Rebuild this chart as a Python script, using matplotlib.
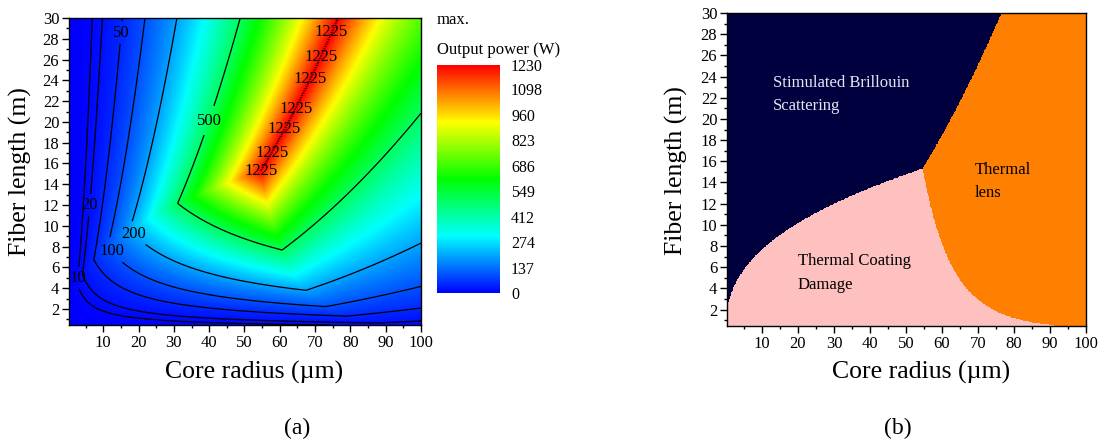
import numpy as np
import matplotlib
matplotlib.use("Agg")
import matplotlib.pyplot as plt
from matplotlib.colors import LinearSegmentedColormap, ListedColormap, Normalize
from matplotlib.cm import ScalarMappable
from matplotlib.ticker import MultipleLocator

plt.rcParams['font.family'] = ['Liberation Serif', 'DejaVu Serif']

# ---- sampling of the design space ----
core_radius = np.linspace(0.3, 100, 600)     # um
fiber_length = np.linspace(0.45, 30, 500)    # m

# ---- power-limit model coefficients ----
SBS_COEF = 6.3          # P_SBS  = k * r^2 / L
LENS_COEF = 240000.0    # P_lens = k * L / r^2
COAT_COEF = 0.43        # P_coat = k * L^a * r^b
COAT_LEN_EXP = 1.45
COAT_RAD_EXP = 1.0

contour_levels = [10, 20, 50, 100, 200, 500]
contour_label_pos = [(3.0, 5.0), (5.5, 12.0), (15.2, 28.6), (12.5, 7.6),
                     (20.0, 9.6), (38.5, 20.3)]
ridge_level = 1225
ridge_label_pos = [(54.4, 14.9), (57.7, 17.0), (61.3, 19.3), (64.5, 21.3),
                   (68.6, 24.1), (71.7, 26.3), (74.7, 28.6)]
cbar_ticks = [0, 137, 274, 412, 549, 686, 823, 960, 1098, 1230]
power_max = 1230
x_ticks = list(range(10, 101, 10))
y_ticks = list(range(2, 31, 2))

region_names = ["Stimulated Brillouin\nScattering", "Thermal Coating\nDamage",
                "Thermal\nlens"]
region_text_pos = [(13.0, 22.3), (19.9, 5.45), (69.2, 14.1)]
region_text_color = ['#e6e6f2', 'black', 'black']
region_colors = ['#00003f', '#ffc0c0', '#ff8000']

# ---- evaluate limits ----
R, L = np.meshgrid(core_radius, fiber_length)
p_sbs = SBS_COEF * R**2 / L
p_coat = COAT_COEF * L**COAT_LEN_EXP * R**COAT_RAD_EXP
p_lens = LENS_COEF * L / R**2
limits = np.stack([p_sbs, p_coat, p_lens])
power = limits.min(axis=0)
region = limits.argmin(axis=0)

# ---- figure ----
W, H = 1105, 445
fig = plt.figure(figsize=(W / 100, H / 100), dpi=100)

def px_box(left, top, right, bottom):
    return [left / W, 1 - bottom / H, (right - left) / W, (bottom - top) / H]

cmap = LinearSegmentedColormap.from_list(
    'rainbow5', [(0.0, '#0000ff'), (0.25, '#00ffff'), (0.5, '#00ff00'),
                 (0.75, '#ffff00'), (1.0, '#ff0000')])
norm = Normalize(vmin=0, vmax=power_max)

def style_axes(ax):
    ax.set_xlim(0.3, 100)
    ax.set_ylim(0.45, 30)
    ax.set_xticks(x_ticks)
    ax.set_yticks(y_ticks)
    ax.xaxis.set_minor_locator(MultipleLocator(5))
    ax.yaxis.set_minor_locator(MultipleLocator(1))
    ax.tick_params(which='major', direction='out', length=5, width=1,
                   labelsize=12, pad=2)
    ax.tick_params(which='minor', direction='out', length=2.5, width=1)
    ax.tick_params(top=False, right=False, which='both')
    for s in ax.spines.values():
        s.set_linewidth(1)

# (a) maximum output power
ax1 = fig.add_axes(px_box(69, 18, 421, 325))
ax1.pcolormesh(R, L, power, cmap=cmap, norm=norm, shading='gouraud',
               rasterized=True)
cs = ax1.contour(R, L, power, levels=contour_levels, colors='k',
                 linewidths=0.9)
labels = ax1.clabel(cs, fmt='%d', fontsize=12, inline=True, inline_spacing=3,
                    manual=contour_label_pos)
for t in labels:
    t.set_rotation(0)

cs_ridge = ax1.contour(R, L, power, levels=[ridge_level], colors='k',
                       linewidths=0.7, linestyles=':')
ridge_labels = ax1.clabel(cs_ridge, fmt='%d', fontsize=12, inline=False,
                          manual=ridge_label_pos)
for t in ridge_labels:
    t.set_rotation(0)
style_axes(ax1)

cax = fig.add_axes(px_box(437, 65, 500, 293))
cb = fig.colorbar(ScalarMappable(norm=norm, cmap=cmap), cax=cax,
                  ticks=cbar_ticks)
cb.outline.set_visible(False)
cax.tick_params(length=0, labelsize=11.5, pad=8)
cax.set_yticklabels([str(t) for t in cbar_ticks])
fig.text(437 / W, 1 - 20 / H, 'max.', fontsize=12, ha='left', va='center')
fig.text(437 / W, 1 - 50 / H, 'Output power (W)', fontsize=12,
         ha='left', va='center')

# (b) dominant limitation
ax2 = fig.add_axes(px_box(727, 13, 1086, 326))
ax2.pcolormesh(R, L, region, cmap=ListedColormap(region_colors),
               vmin=-0.5, vmax=2.5, shading='nearest', rasterized=True)
style_axes(ax2)
for name, (x, y), c in zip(region_names, region_text_pos, region_text_color):
    ax2.text(x, y, name, color=c, fontsize=12, ha='left', va='center',
             linespacing=1.6)

# axis titles and panel tags
for xc, yc in [(20, 172), (676, 171)]:
    fig.text(xc / W, 1 - yc / H, 'Fiber length (m)', rotation=90,
             fontsize=18.5, ha='center', va='center')
for xc in (254, 921):
    fig.text(xc / W, 1 - 372 / H, 'Core radius (µm)', fontsize=18.5,
             ha='center', va='center')
fig.text(297 / W, 1 - 428 / H, '(a)', fontsize=17, ha='center', va='center')
fig.text(898 / W, 1 - 428 / H, '(b)', fontsize=17, ha='center', va='center')

fig.savefig('out.png', dpi=100)
